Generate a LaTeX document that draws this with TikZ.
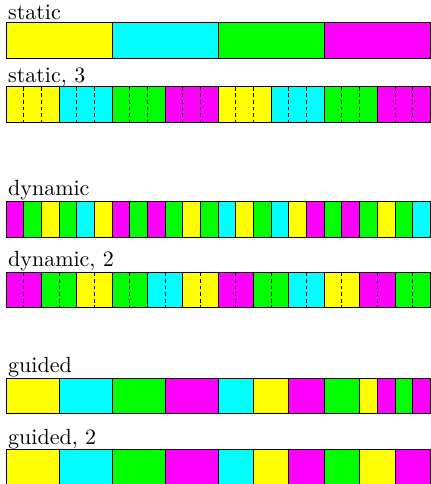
\documentclass[tikz,border=0pt]{standalone}
\definecolor{cy}{RGB}{0,255,255}
\definecolor{ma}{RGB}{255,0,255}
\definecolor{ye}{RGB}{255,255,0}
\definecolor{gr}{RGB}{0,255,0}
\newcommand\barrow[2]{%
  \foreach \a/\b/\col in {#2} {
    \filldraw[cellbox,fill=\col] (\a,#1) rectangle (\b,#1+35.36);
  }%
}
\newcommand\sepline[2]{%
  \foreach \xx in {#2} {
    \draw[sepdash] (\xx,#1) -- (\xx,#1+35.36);
  }%
}
\begin{document}
\begin{tikzpicture}[x=8.036pt,y=-0.4545pt,
  cellbox/.style={draw=black,line width=0.4pt},
  sepdash/.style={draw=black,line width=0.4pt,dash pattern=on 1.8pt off 1.2pt},
  lbl/.style={anchor=base west,inner sep=0pt,xshift=0.8pt,font=\fontsize{10}{12}\selectfont}]
\useasboundingbox (-0.3394,0) rectangle (24.038,484);

% static
\node[lbl] (lstatic) at (0,19.5) {static};
\barrow{22.7}{0/6/ye,6/12/cy,12/18/gr,18/24/ma}

% static, 3
\node[lbl] (lstatic3) at (0,82) {static, 3};
\barrow{86.7}{0/3/ye,3/6/cy,6/9/gr,9/12/ma,12/15/ye,15/18/cy,18/21/gr,21/24/ma}
\sepline{86.7}{1,2,4,5,7,8,10,11,13,14,16,17,19,20,22,23}

% dynamic
\node[lbl] (ldyn) at (0,195.5) {dynamic};
\barrow{201.7}{0/1/ma,1/2/gr,2/3/ye,3/4/gr,4/5/cy,5/6/ye,6/7/ma,7/8/gr,8/9/ma,9/10/gr,10/11/ye,11/12/gr,12/13/cy,13/14/ye,14/15/gr,15/16/cy,16/17/ye,17/18/ma,18/19/gr,19/20/ma,20/21/gr,21/22/ye,22/23/gr,23/24/cy}

% dynamic, 2
\node[lbl] (ldyn2) at (0,266.5) {dynamic, 2};
\barrow{272.3}{0/2/ma,2/4/gr,4/6/ye,6/8/gr,8/10/cy,10/12/ye,12/14/ma,14/16/gr,16/18/cy,18/20/ye,20/22/ma,22/24/gr}
\sepline{272.3}{1,3,5,7,9,11,13,15,17,19,21,23}

% guided
\node[lbl] (lguided) at (0,372.3) {guided};
\barrow{378.3}{0/3/ye,3/6/cy,6/9/gr,9/12/ma,12/14/cy,14/16/ye,16/18/ma,18/20/gr,20/21/ye,21/22/ma,22/23/gr,23/24/ma}

% guided, 2
\node[lbl] (lguided2) at (0,444.5) {guided, 2};
\barrow{449.3}{0/3/ye,3/6/cy,6/9/gr,9/12/ma,12/14/cy,14/16/ye,16/18/ma,18/20/gr,20/22/ye,22/24/ma}
\end{tikzpicture}
\end{document}
